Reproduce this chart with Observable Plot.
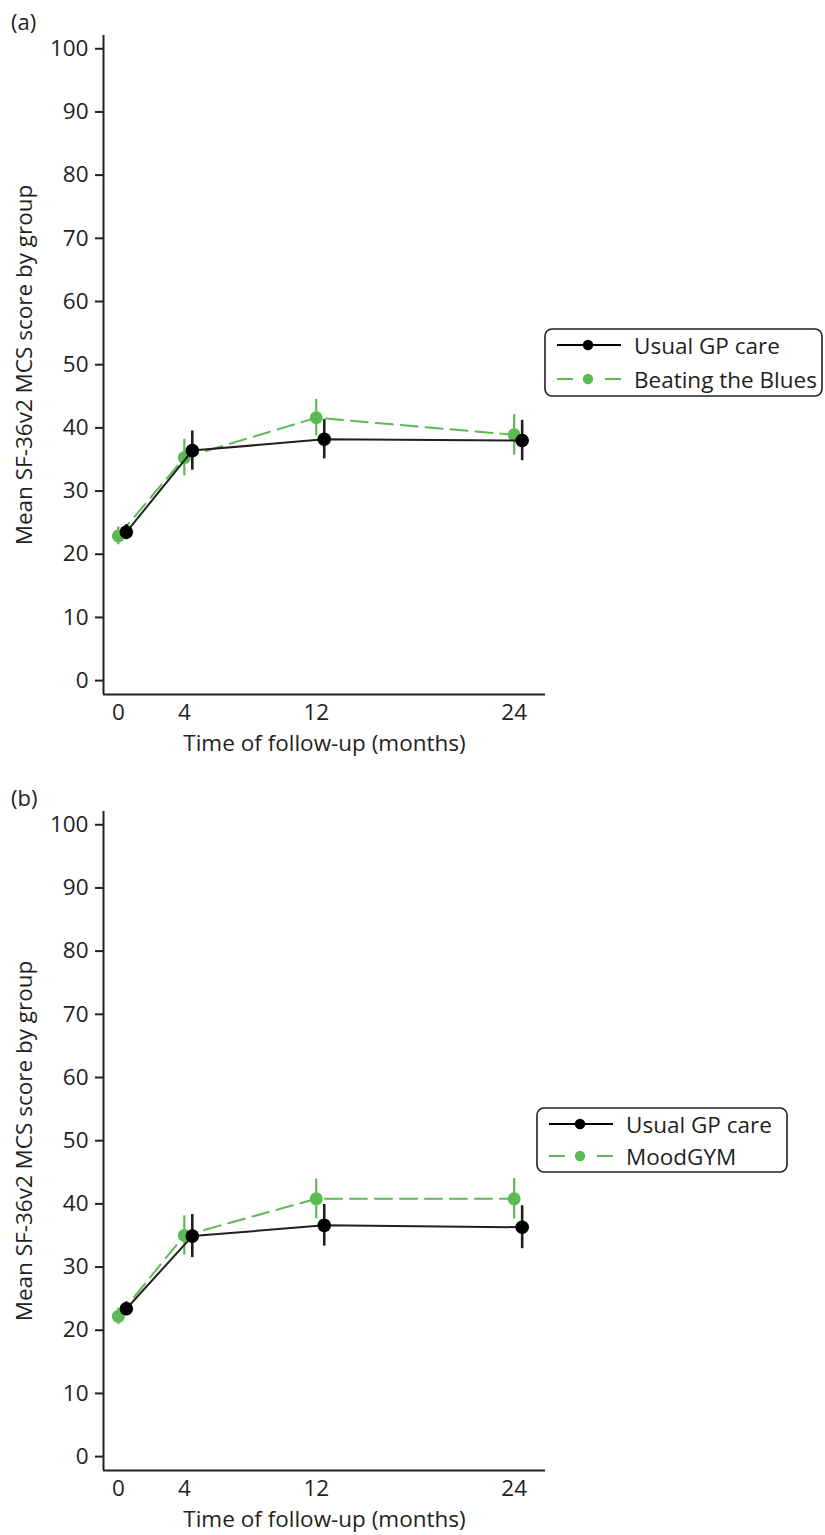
<!DOCTYPE html>
<html><head><meta charset="utf-8">
<script src="https://cdn.jsdelivr.net/npm/d3@7"></script>
<script src="https://cdn.jsdelivr.net/npm/@observablehq/plot@0.6"></script>
<style>
body{margin:0;background:#fff;font-family:"Open Sans",sans-serif;color:#231f20}
#wrap{position:relative;width:825px;height:1535px;overflow:hidden;background:#fff}
.panel{position:absolute;left:0;width:825px}
.plabel{position:absolute;left:11px;font-size:22px;line-height:22px}
.legend{position:absolute}
svg{overflow:visible}
</style></head><body><div id="wrap"></div>
<script>
// ---- data ----
const months = [0, 4, 12, 24];
const yTicks = [0, 10, 20, 30, 40, 50, 60, 70, 80, 90, 100];
const xTitle = "Time of follow-up (months)";
const yTitle = "Mean SF-36v2 MCS score by group";

const seriesA = ["Usual GP care", "Beating the Blues"];
const usualA = [23.5, 36.4, 38.2, 38.0];
const usualAErr = [1.2, 3.1, 3.1, 3.2];
const bttbA = [22.9, 35.3, 41.6, 38.9];
const bttbAErr = [1.4, 2.9, 2.9, 3.2];

const seriesB = ["Usual GP care", "MoodGYM"];
const usualB = [23.4, 34.9, 36.6, 36.3];
const usualBErr = [1.1, 3.4, 3.3, 3.4];
const moodB = [22.2, 35.0, 40.8, 40.8];
const moodBErr = [1.3, 3.1, 3.15, 3.2];

// ---- styling ----
const INK = "#231f20";
const GREEN = "#5cba55";
const FS = 22.5;
const xDomain = [-0.9, 25.9];
const yDomain = [-2.2, 102.1];

function rowsOf(name, means, errs) {
  return months.map((m, i) => ({series: name, month: m, mean: means[i], lo: means[i] - errs[i], hi: means[i] + errs[i]}));
}

function makePlot(usual, green, height, marginBottom) {
  const gMarks = [
    Plot.ruleX(green, {x: "month", y1: "lo", y2: "hi", stroke: GREEN, strokeWidth: 2.2}),
    Plot.line(green, {x: "month", y: "mean", stroke: GREEN, strokeWidth: 2, strokeDasharray: "17,8"}),
    Plot.dot(green, {x: "month", y: "mean", r: 6.5, fill: GREEN})
  ];
  const bMarks = [
    Plot.line(usual, {x: "month", y: "mean", stroke: INK, strokeWidth: 2, dx: 8}),
    Plot.ruleX(usual, {x: "month", y1: "lo", y2: "hi", stroke: INK, strokeWidth: 2.6, dx: 8}),
    Plot.dot(usual, {x: "month", y: "mean", r: 6.8, fill: "#000", dx: 8})
  ];
  return Plot.plot({
    width: 825, height,
    marginLeft: 103, marginRight: 280, marginTop: 35, marginBottom,
    style: {fontFamily: "'Open Sans', sans-serif", color: INK, background: "#fff", overflow: "visible"},
    x: {domain: xDomain},
    y: {domain: yDomain},
    marks: [
      Plot.axisY({ticks: yTicks, tickSize: 8, tickPadding: 7, fontSize: FS, label: null, strokeWidth: 2}),
      Plot.axisX({ticks: months, tickSize: 0, tickPadding: 10, fontSize: FS, label: null}),
      Plot.ruleX([xDomain[0]], {stroke: INK, strokeWidth: 2}),
      Plot.ruleY([yDomain[0]], {stroke: INK, strokeWidth: 2}),
      Plot.text([yTitle], {frameAnchor: "left", textAnchor: "middle", lineAnchor: "middle", rotate: -90, dx: -79, fontSize: FS, fill: INK}),
      Plot.text([xTitle], {frameAnchor: "bottom", lineAnchor: "middle", dy: 49, fontSize: FS, fill: INK}),
      ...gMarks, ...bMarks
    ]
  });
}

function legend(names, left, top, w, h, rows) {
  const ns = "http://www.w3.org/2000/svg";
  const svg = document.createElementNS(ns, "svg");
  svg.setAttribute("width", w + 4); svg.setAttribute("height", h + 4);
  const box = document.createElementNS(ns, "rect");
  Object.entries({x: 1, y: 1, width: w, height: h, rx: 7, fill: "#fff", stroke: INK, "stroke-width": 1.6}).forEach(([k, v]) => box.setAttribute(k, v));
  svg.appendChild(box);
  names.forEach((name, i) => {
    const y = rows[i] + 1;
    const col = i === 0 ? "#000" : GREEN;
    const ln = document.createElementNS(ns, "line");
    Object.entries({x1: 13, x2: 77, y1: y, y2: y, stroke: col, "stroke-width": 2}).forEach(([k, v]) => ln.setAttribute(k, v));
    if (i === 1) ln.setAttribute("stroke-dasharray", "16,32,16");
    svg.appendChild(ln);
    const c = document.createElementNS(ns, "circle");
    Object.entries({cx: 44, cy: y, r: 5.2, fill: col}).forEach(([k, v]) => c.setAttribute(k, v));
    svg.appendChild(c);
    const t = document.createElementNS(ns, "text");
    Object.entries({x: 90, y, "dominant-baseline": "central", "font-size": FS, fill: INK, "font-family": "'Open Sans', sans-serif"}).forEach(([k, v]) => t.setAttribute(k, v));
    t.textContent = name;
    svg.appendChild(t);
  });
  const d = document.createElement("div");
  d.className = "legend";
  d.style.left = (left - 1) + "px"; d.style.top = (top - 1) + "px";
  d.appendChild(svg);
  return d;
}

const wrap = document.getElementById("wrap");
function addPanel(label, top, height, mb, usual, green, names, lg) {
  const p = document.createElement("div");
  p.className = "panel"; p.style.top = top + "px"; p.style.height = height + "px";
  p.appendChild(makePlot(usual, green, height, mb));
  const l = document.createElement("div");
  l.className = "plabel"; l.style.top = "10px"; l.textContent = label;
  p.appendChild(l);
  p.appendChild(legend(names, ...lg));
  wrap.appendChild(p);
}

addPanel("(a)", 0, 776, 82, rowsOf(seriesA[0], usualA, usualAErr), rowsOf(seriesA[1], bttbA, bttbAErr), seriesA, [545, 329, 277, 67, [16, 50]]);
addPanel("(b)", 776, 759, 65, rowsOf(seriesB[0], usualB, usualBErr), rowsOf(seriesB[1], moodB, moodBErr), seriesB, [537, 332, 250, 64, [16, 48]]);
</script></body></html>
